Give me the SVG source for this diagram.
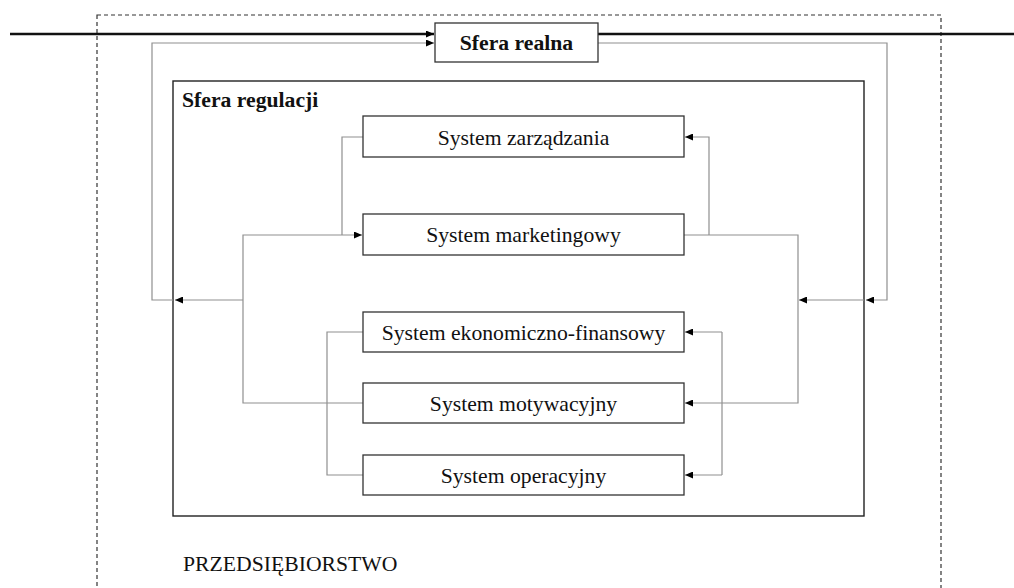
<svg xmlns="http://www.w3.org/2000/svg" width="1014" height="588" viewBox="0 0 1014 588">
<defs>
<marker id="ah" viewBox="0 0 8 7" refX="8" refY="3.5" markerWidth="8" markerHeight="7" markerUnits="userSpaceOnUse" orient="auto">
<path d="M0,0 L8,3.5 L0,7 z" fill="#000"/>
</marker>
<style>
.box{fill:#fff;stroke:#333;stroke-width:1.3}
.t{font-family:"Liberation Serif","Times New Roman",serif;font-size:21.7px;fill:#111}
.b{font-weight:bold}
.g{fill:none;stroke:#8f8f8f;stroke-width:1.2}
.k{fill:none;stroke:#111;stroke-width:2.6}
</style>
</defs>
<rect width="1014" height="588" fill="#fff"/>
<g id="przedsiebiorstwo">
<rect x="97" y="15" width="844" height="600" fill="none" stroke="#333" stroke-width="1.2" stroke-dasharray="4 3"/>
<text class="t" x="183" y="571">PRZEDSIĘBIORSTWO</text>
</g>
<g id="sfera-regulacji">
<rect x="173" y="81" width="691" height="435" fill="none" stroke="#222" stroke-width="1.4"/>
<text class="t b" x="182" y="107">Sfera regulacji</text>
</g>
<g id="connectors">
<path class="k" d="M10,34 H434" marker-end="url(#ah)"/>
<path class="k" d="M598,34 H1014"/>
<path class="g" d="M173,300 H152 V43 H434" marker-end="url(#ah)"/>
<path class="g" d="M598,43 H887 V300 H866" marker-end="url(#ah)"/>
<path class="g" d="M864,300 H799" marker-end="url(#ah)"/>
<path class="g" d="M684,235 H798 V403 H685" marker-end="url(#ah)"/>
<path class="g" d="M709,235 V137 H685" marker-end="url(#ah)"/>
<path class="g" d="M363,137 H342 V235"/>
<path class="g" d="M363,403 H243 V235 H362" marker-end="url(#ah)"/>
<path class="g" d="M243,300 H175" marker-end="url(#ah)"/>
<path class="g" d="M363,332 H327 V475 H363"/>
<path class="g" d="M722,332 V475"/>
<path class="g" d="M722,332 H685" marker-end="url(#ah)"/>
<path class="g" d="M722,475 H685" marker-end="url(#ah)"/>
</g>
<g id="sfera-realna">
<rect class="box" x="435" y="23" width="163" height="39"/>
<text class="t b" x="516.5" y="50" text-anchor="middle">Sfera realna</text>
</g>
<g id="system-zarzadzania">
<rect class="box" x="363" y="116" width="321" height="41"/>
<text class="t" x="523.5" y="144.5" text-anchor="middle">System zarządzania</text>
</g>
<g id="system-marketingowy">
<rect class="box" x="363" y="214" width="321" height="41"/>
<text class="t" x="523.5" y="242" text-anchor="middle">System marketingowy</text>
</g>
<g id="system-ekonomiczno-finansowy">
<rect class="box" x="363" y="312" width="321" height="40"/>
<text class="t" x="523.5" y="339.5" text-anchor="middle">System ekonomiczno-finansowy</text>
</g>
<g id="system-motywacyjny">
<rect class="box" x="363" y="383" width="321" height="40"/>
<text class="t" x="523.5" y="410.5" text-anchor="middle">System motywacyjny</text>
</g>
<g id="system-operacyjny">
<rect class="box" x="363" y="455" width="321" height="40"/>
<text class="t" x="523.5" y="482.5" text-anchor="middle">System operacyjny</text>
</g>
</svg>
